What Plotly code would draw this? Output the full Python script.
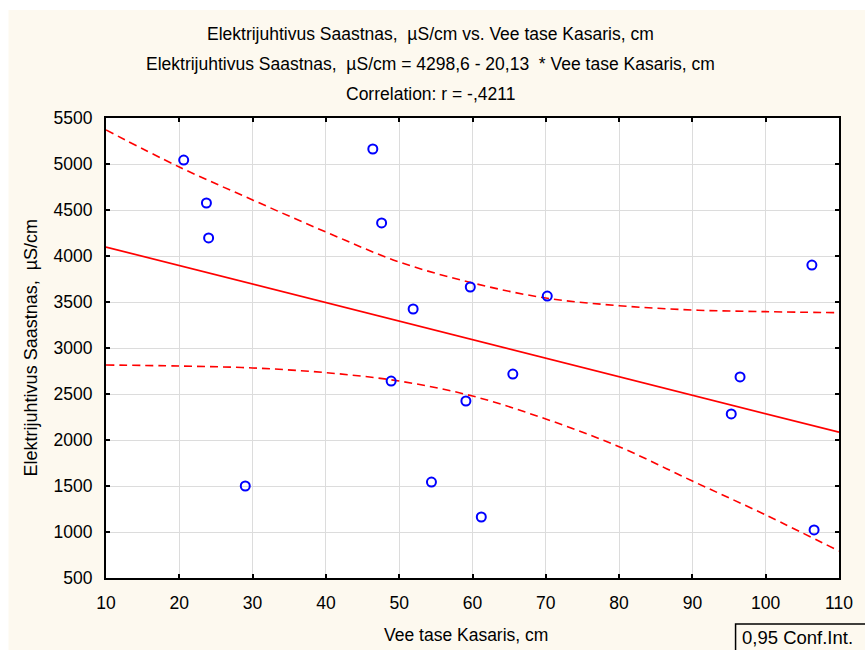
import plotly.graph_objects as go

# ---- data ----
water_level_cm = [20.6, 23.7, 24.0, 29.0, 46.4, 47.6, 48.9, 51.9, 54.4, 59.1,
                  59.7, 61.2, 65.5, 70.2, 95.3, 96.5, 106.3, 106.6]
conductivity_uScm = [5043, 4576, 4196, 1500, 5163, 4359, 2641, 3424, 1543, 2424,
                     3663, 1163, 2717, 3565, 2283, 2685, 3902, 1022]

# regression model stated in the title
INTERCEPT = 4298.6
SLOPE = -20.13
line_x = [10, 110]
line_y = [INTERCEPT + SLOPE * v for v in line_x]

# 0.95 confidence band
band_x = [10, 20, 30, 40, 50, 60, 70, 80, 90, 100, 110]
band_upper = [5370, 4967, 4609, 4261, 3935, 3707, 3543, 3460, 3413, 3395, 3384]
band_lower = [2815, 2804, 2783, 2732, 2641, 2478, 2228, 1927, 1554, 1185, 793]

x_ticks = list(range(10, 111, 10))
y_ticks = list(range(500, 5501, 500))

title_lines = [
    "Elektrijuhtivus Saastnas,  µS/cm vs. Vee tase Kasaris, cm",
    "Elektrijuhtivus Saastnas,  µS/cm = 4298,6 - 20,13  * Vee tase Kasaris, cm",
    "Correlation: r = -,4211",
]
x_title = "Vee tase Kasaris, cm"
y_title = "Elektrijuhtivus Saastnas,  µS/cm"
legend_text = "0,95 Conf.Int."

# ---- layout geometry (pixels) ----
W, H = 865, 650
L, R, T, B = 106, 843, 118, 578
pw, ph = R - L, B - T


def px(xp):
    return (xp - L) / pw


def py(yp):
    return (B - yp) / ph


FONT = "Liberation Sans, Arial, sans-serif"
CREAM = "#FDF9EF"

fig = go.Figure()

fig.add_trace(go.Scatter(x=band_x, y=band_upper, mode="lines", line_shape="spline",
                         line=dict(color="#FF0000", width=1.6, dash="8px,5px"),
                         hoverinfo="skip", showlegend=False))
fig.add_trace(go.Scatter(x=band_x, y=band_lower, mode="lines", line_shape="spline",
                         line=dict(color="#FF0000", width=1.6, dash="8px,5px"),
                         hoverinfo="skip", showlegend=False))
fig.add_trace(go.Scatter(x=line_x, y=line_y, mode="lines",
                         line=dict(color="#FF0000", width=1.7),
                         showlegend=False))
fig.add_trace(go.Scatter(x=water_level_cm, y=conductivity_uScm, mode="markers",
                         marker=dict(symbol="circle-open", size=9, color="#0000FF",
                                     line=dict(width=2, color="#0000FF")),
                         showlegend=False))

axis_common = dict(
    showgrid=True, gridcolor="#DCDCDC", gridwidth=1,
    showline=True, linecolor="black", linewidth=2, mirror="ticks",
    ticks="inside", ticklen=4, tickwidth=1.5, tickcolor="black",
    zeroline=False, tickfont=dict(family=FONT, size=17.5, color="black"),
)

fig.update_xaxes(range=[10, 110], tickvals=x_ticks, ticklabelstandoff=8, **axis_common)
fig.update_yaxes(range=[500, 5500], tickvals=y_ticks, ticklabelstandoff=8, **axis_common)

annotations = []
for i, (txt, yc) in enumerate(zip(title_lines, [34, 64, 94])):
    annotations.append(dict(text=txt, x=px(432), y=py(yc), xref="paper", yref="paper",
                            xanchor="center", yanchor="middle", showarrow=False,
                            font=dict(family=FONT, size=17.5, color="black")))
annotations.append(dict(text=x_title, x=px(468), y=py(635), xref="paper", yref="paper",
                        xanchor="center", yanchor="middle", showarrow=False,
                        font=dict(family=FONT, size=17.5, color="black")))
annotations.append(dict(text=y_title, x=px(31), y=py(348), xref="paper", yref="paper",
                        xanchor="center", yanchor="middle", showarrow=False, textangle=-90,
                        font=dict(family=FONT, size=18, color="black")))
annotations.append(dict(text=legend_text, x=px(743), y=py(637), xref="paper", yref="paper",
                        xanchor="left", yanchor="middle", showarrow=False,
                        font=dict(family=FONT, size=18.5, color="black")))

shapes = [
    # white strips at top and left of the page
    dict(type="rect", xref="paper", yref="paper", x0=px(-5), x1=px(870), y0=py(10), y1=py(-5),
         fillcolor="white", line=dict(width=0), layer="below"),
    dict(type="rect", xref="paper", yref="paper", x0=px(-5), x1=px(8), y0=py(655), y1=py(-5),
         fillcolor="white", line=dict(width=0), layer="below"),
    # legend box
    dict(type="rect", xref="paper", yref="paper", x0=px(739), x1=px(875), y0=py(660), y1=py(624),
         fillcolor="rgba(0,0,0,0)", line=dict(width=1.5, color="black"), layer="above"),
]

fig.update_layout(
    width=W, height=H,
    margin=dict(l=L, r=W - R, t=T, b=H - B),
    paper_bgcolor=CREAM, plot_bgcolor="white",
    annotations=annotations, shapes=shapes,
    showlegend=False,
)

fig.write_html("out.html")
